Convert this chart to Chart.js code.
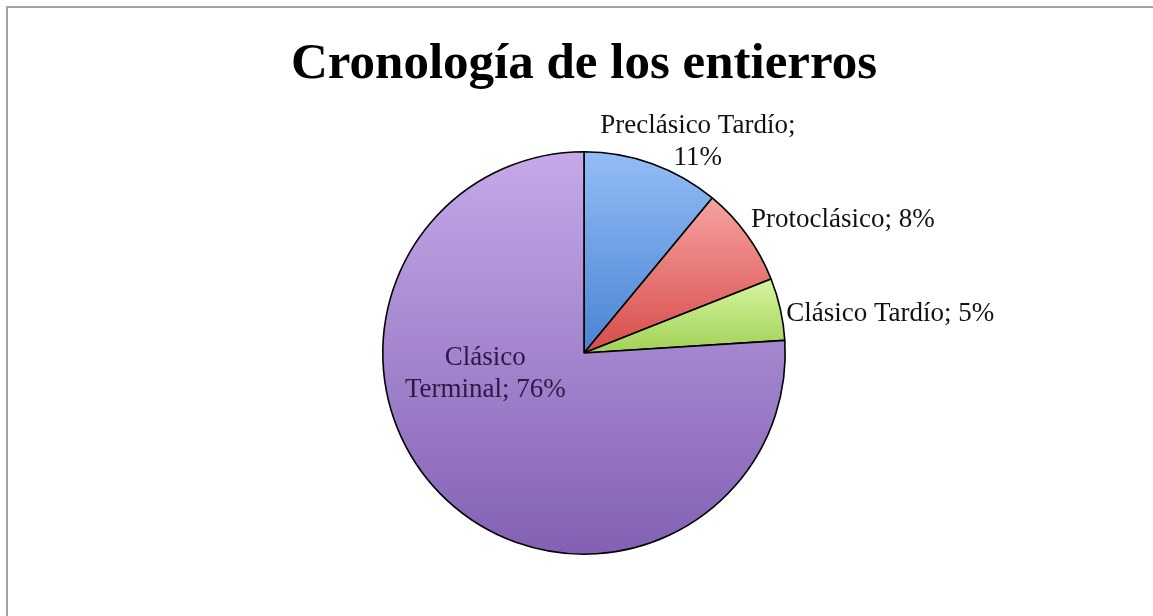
<!DOCTYPE html>
<html>
<head>
<meta charset="utf-8">
<script src="https://cdn.jsdelivr.net/npm/chart.js@4"></script>
<style>
  html, body { margin: 0; padding: 0; background: #fff; }
  #wrap { position: relative; width: 1153px; height: 616px; }
  #frame { position: absolute; left: 6px; top: 6px; right: -10px; bottom: -10px;
           border-top: 2px solid #a3a3a3; border-left: 2px solid #a3a3a3; }
  canvas { position: absolute; left: 0; top: 0; }
</style>
</head>
<body>
<div id="wrap">
  <div id="frame"></div>
  <canvas id="pieChart" width="1153" height="616"></canvas>
</div>
<script>
// Chart data
const categories = ["Preclásico Tardío", "Protoclásico", "Clásico Tardío", "Clásico Terminal"];
const values = [11, 8, 5, 76];
// gradient colours per slice (top, bottom)
const topColors = ["#93bdf6", "#f6a2a0", "#d6f59e", "#c5a9e8"];
const bottomColors = ["#4a83d3", "#d64c4a", "#a2d058", "#8261b4"];

const TITLE = "Cronología de los entierros";
const LABEL_FONT = "27px 'Liberation Serif', serif";

// where each data label goes: angle override (deg from top), radius factor, alignment, shift
const labelPlacement = [
    { rf: 0.995, align: "above", dx: 46, dy: 0 },
    { rf: 1.02, align: "right", dx: 1, dy: -12 },
    { rf: 1.03, align: "right", dx: 0, dy: 6 },
    { angle: 259, rf: 0.53, align: "inside", dx: 6, dy: 1 }
];

const total = values.reduce((a, b) => a + b, 0);

// vertical extent of a slice, for its gradient
function sliceYRange(i, cy, r) {
    let start = 0;
    for (let k = 0; k < i; k++) start += values[k] / total * 360;
    const end = start + values[i] / total * 360;
    const ys = [cy];
    const angs = [start, end];
    for (let a = 0; a <= 360; a += 90) if (a > start && a < end) angs.push(a);
    angs.forEach(a => ys.push(cy - r * Math.cos(a * Math.PI / 180)));
    return [Math.min(...ys), Math.max(...ys)];
}

const labelPlugin = {
    id: "sliceLabels",
    afterDatasetsDraw(chart) {
        const ctx = chart.ctx;
        const meta = chart.getDatasetMeta(0);
        ctx.save();
        ctx.font = LABEL_FONT;
        meta.data.forEach((arc, i) => {
            const p = labelPlacement[i];
            let ang = (arc.startAngle + arc.endAngle) / 2;
            if (p.angle !== undefined) ang = (p.angle - 90) * Math.PI / 180;
            const R = arc.outerRadius * p.rf;
            const x = arc.x + Math.cos(ang) * R + p.dx;
            const y = arc.y + Math.sin(ang) * R + p.dy;
            const pct = values[i] + "%";
            const lh = 32;
            if (p.align === "right") {
                ctx.fillStyle = "#111";
                ctx.textAlign = "left";
                ctx.textBaseline = "middle";
                ctx.fillText(categories[i] + "; " + pct, x, y);
            } else if (p.align === "above") {
                ctx.fillStyle = "#111";
                ctx.textAlign = "center";
                ctx.textBaseline = "alphabetic";
                ctx.fillText(pct, x, y);
                ctx.fillText(categories[i] + ";", x, y - lh);
            } else {
                // two lines inside the slice
                const words = categories[i].split(" ");
                ctx.fillStyle = "#2a1a44";
                ctx.textAlign = "center";
                ctx.textBaseline = "middle";
                ctx.fillText(words[0], x, y - lh / 2);
                ctx.fillText(words.slice(1).join(" ") + "; " + pct, x, y + lh / 2);
            }
        });
        ctx.restore();
    }
};

const titlePlugin = {
    id: "topTitle",
    afterDraw(chart) {
        const ctx = chart.ctx;
        ctx.save();
        ctx.font = "bold 51px 'Liberation Serif', serif";
        ctx.fillStyle = "#000";
        ctx.textAlign = "center";
        ctx.textBaseline = "alphabetic";
        ctx.fillText(TITLE, (chart.chartArea.left + chart.chartArea.right) / 2, 78);
        ctx.restore();
    }
};

document.addEventListener("DOMContentLoaded", function () {
    const ctx1 = document.getElementById("pieChart").getContext("2d");
    new Chart(ctx1, {
        type: "pie",
        data: {
            labels: categories,
            datasets: [{
                data: values,
                backgroundColor: function (c) {
                    const chart = c.chart;
                    const area = chart.chartArea;
                    if (!area) return topColors[c.dataIndex];
                    const cy = (area.top + area.bottom) / 2;
                    const r = Math.min(area.right - area.left, area.bottom - area.top) / 2;
                    const [y0, y1] = sliceYRange(c.dataIndex, cy, r);
                    const g = chart.ctx.createLinearGradient(0, y0, 0, y1);
                    g.addColorStop(0, topColors[c.dataIndex]);
                    g.addColorStop(1, bottomColors[c.dataIndex]);
                    return g;
                },
                borderColor: "#000",
                borderWidth: 1.6,
                hoverOffset: 0
            }]
        },
        options: {
            responsive: false,
            animation: false,
            layout: { padding: { top: 151, bottom: 61, left: 200, right: 185 } },
            plugins: {
                legend: { display: false },
                tooltip: { enabled: false },
                title: { display: false }
            }
        },
        plugins: [labelPlugin, titlePlugin]
    });
});
</script>
</body>
</html>
